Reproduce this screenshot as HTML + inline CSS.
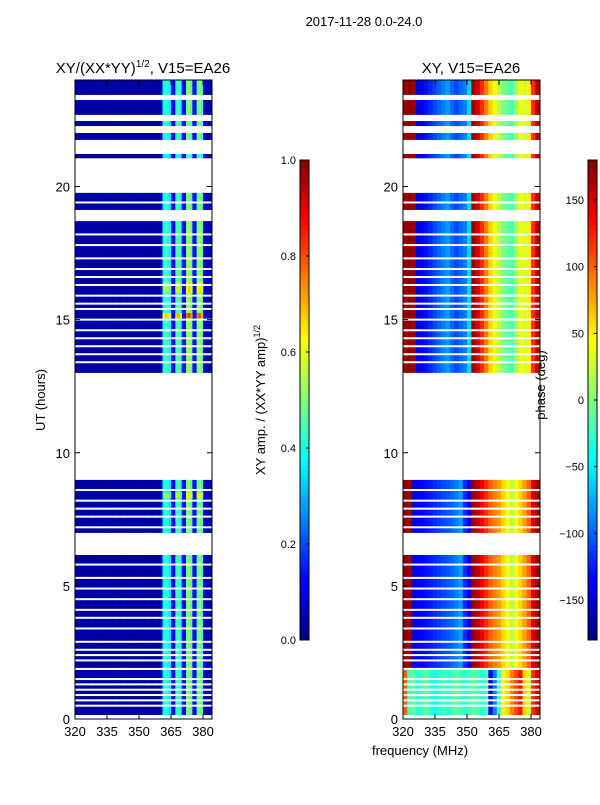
<!DOCTYPE html>
<html><head><meta charset="utf-8"><style>
body{margin:0;background:#fff;}
svg text{font-family:"Liberation Sans","DejaVu Sans",sans-serif;fill:#000;}
</style></head><body>
<svg id="fig" width="600" height="800" xmlns="http://www.w3.org/2000/svg">
<rect width="600" height="800" fill="#fff"/>
<text x="364" y="26" font-size="13" text-anchor="middle">2017-11-28 0.0-24.0</text>
<text x="143" y="73" font-size="15" text-anchor="middle">XY/(XX*YY)<tspan font-size="10" dy="-6">1/2</tspan><tspan dy="6">, V15=EA26</tspan></text>
<text x="471" y="73" font-size="15" text-anchor="middle">XY, V15=EA26</text>
<text transform="translate(45,400) rotate(-90)" font-size="13" text-anchor="middle">UT (hours)</text>
<text x="420" y="755" font-size="13" text-anchor="middle">frequency (MHz)</text>
<text transform="translate(265,400) rotate(-90)" font-size="13" text-anchor="middle">XY amp. / (XX*YY amp)<tspan font-size="9" dy="-5">1/2</tspan></text>
<text transform="translate(545,385) rotate(-90)" font-size="13" text-anchor="middle">phase (deg)</text>
<g id="amp"></g>
<g id="pha"></g>
<g id="axes"></g>
</svg>
<script>
// ---- data ----
const freqStart = 320, freqEnd = 384.2;
const ampProfile = [0.03,0.04,0.03,0.03,0.04,0.03,0.03,0.04,0.03,0.03,0.04,0.03,0.03,0.04,0.03,0.03,0.04,0.03,0.03,0.04,0.03,0.03,0.04,0.03,0.03,0.04,0.03,0.03,0.04,0.03,0.03,0.04,0.03,0.03,0.04,0.03,0.03,0.04,0.03,0.03,0.05,0.38,0.42,0.40,0.36,0.12,0.10,0.42,0.45,0.40,0.14,0.12,0.48,0.52,0.46,0.14,0.13,0.48,0.50,0.44,0.06,0.05,0.04,0.05];
const phaseA = [170,175,170,-150,-140,-130,-120,-110,-100,-90,-80,-100,-110,-100,-90,-60,170,150,120,90,60,40,20,0,-10,-20,10,40,30,50,120,160];
const phaseB = [175,170,-150,-140,-135,-130,-125,-120,-115,-110,-105,-100,-90,-80,-120,-140,170,160,140,120,100,90,80,60,40,20,40,60,80,100,150,170];
const phaseC = [100,-20,-10,-30,-20,-10,-30,-40,-30,-20,-30,-20,-10,-20,-30,-20,-10,-20,-30,-20,-150,-90,-20,40,60,90,110,130,60,30,120,150];
const segStart = [23.44,22.69,22.27,21.75,21.06,19.12,13.0,6.99,1.92,0.15];
const segEnd   = [24.0,23.25,22.46,22.01,21.22,19.76,18.7,8.98,6.16,1.84];
const segBlock = ['A','A','A','A','A','A','A','B','B','C'];
const segGain  = [1,1,1,1,0.9,1,1.05,1,1,1];
const hotStart = [15.05,16.0,8.3];
const hotEnd   = [15.25,16.4,8.5];
const hotGain  = [1.6,1.3,1.25];
const gapHours = [19.4,18.2,17.8,17.3,16.9,16.6,16.3,15.9,15.6,15.4,15.0,14.6,14.3,14.0,13.7,13.4,8.6,8.2,7.9,7.6,7.2,5.8,5.3,4.9,4.5,4.1,3.8,3.4,2.9,2.6,2.4,2.2,1.5,1.3,1.1,0.9,0.7,0.5];
const yTicks = [0,5,10,15,20];
const xTicks = [320,335,350,365,380];
const ampTicks = [0.0,0.2,0.4,0.6,0.8,1.0];
const phaseTicks = [-150,-100,-50,0,50,100,150];
// ---- layout ----
const NS="http://www.w3.org/2000/svg";
const yTop=80,yBot=719;
const panels={amp:{x0:75,x1:212},pha:{x0:403,x1:540}};
function yH(h){return yBot-(h/24)*(yBot-yTop);}
function xF(p,f){return p.x0+(f-freqStart)/(freqEnd-freqStart)*(p.x1-p.x0);}
function jet(v){v=Math.max(0,Math.min(1,v));
 const r=Math.max(0,Math.min(1,1.5-Math.abs(4*v-3)));
 const g=Math.max(0,Math.min(1,1.5-Math.abs(4*v-2)));
 const b=Math.max(0,Math.min(1,1.5-Math.abs(4*v-1)));
 return `rgb(${Math.round(r*255)},${Math.round(g*255)},${Math.round(b*255)})`;}
function mk(tag,attrs,parent){const e=document.createElementNS(NS,tag);for(const k in attrs)e.setAttribute(k,attrs[k]);parent.appendChild(e);return e;}
const gA=document.getElementById('amp'),gP=document.getElementById('pha'),gX=document.getElementById('axes');
const blocks={A:phaseA,B:phaseB,C:phaseC};
for(let s=0;s<segStart.length;s++){
  const ya=yH(segEnd[s]),yb=yH(segStart[s]);
  for(let c=0;c<ampProfile.length;c++){
    const f0=freqStart+c, f1=Math.min(freqEnd,f0+1);
    const xa=xF(panels.amp,f0),xb=xF(panels.amp,f1);
    const r=mk('rect',{x:xa,y:ya,width:xb-xa+0.3,height:yb-ya,fill:jet(ampProfile[c]*segGain[s])},gA);
    
    
    const ph=blocks[segBlock[s]][Math.floor(c/2)];
    const xp=xF(panels.pha,f0),xq=xF(panels.pha,f1);
    const q=mk('rect',{x:xp,y:ya,width:xq-xp+0.3,height:yb-ya,fill:jet((ph+180)/360)},gP);
    
    
  }
}
for(let i=0;i<hotStart.length;i++){
  const ya=yH(hotEnd[i]),yb=yH(hotStart[i]);
  for(let c=0;c<ampProfile.length;c++){
    if(ampProfile[c]<0.2)continue;
    const xa=xF(panels.amp,freqStart+c),xb=xF(panels.amp,freqStart+c+1);
    const r=mk('rect',{x:xa,y:ya,width:xb-xa+0.3,height:yb-ya,fill:jet(ampProfile[c]*hotGain[i])},gA);
    
    
  }
}
for(const h of gapHours){
  for(const p of [panels.amp,panels.pha]){
    const r=mk('rect',{x:p.x0,y:yH(h)-1,width:p.x1-p.x0,height:2,fill:'#fff'},gX);
    
    
  }
}
// axes
for(const key of ['amp','pha']){
  const p=panels[key];
  const fr=mk('rect',{x:p.x0,y:yTop,width:p.x1-p.x0,height:yBot-yTop,fill:'none',stroke:'#000','stroke-width':1},gX);
  
  
  for(const t of yTicks){const y=yH(t);
    mk('line',{x1:p.x0,x2:p.x0+5,y1:y,y2:y,stroke:'#000'},gX);
    mk('line',{x1:p.x1,x2:p.x1-5,y1:y,y2:y,stroke:'#000'},gX);
    const tx=mk('text',{x:p.x0-5,y:y+5,'font-size':13,'text-anchor':'end'},gX);tx.textContent=t;
    
    }
  for(const t of xTicks){const x=xF(p,t);
    mk('line',{x1:x,x2:x,y1:yBot,y2:yBot-5,stroke:'#000'},gX);
    mk('line',{x1:x,x2:x,y1:yTop,y2:yTop+5,stroke:'#000'},gX);
    const tx=mk('text',{x:x,y:yBot+17,'font-size':13,'text-anchor':'middle'},gX);tx.textContent=t;
    
    }
}
// colorbars
function colorbar(x0,ticks,vmin,vmax,fmt,name){
  const cy0=160,cy1=640,w=9;
  for(let i=0;i<96;i++){const v=i/96;
    mk('rect',{x:x0,y:cy1-(i+1)*(cy1-cy0)/96,width:w,height:(cy1-cy0)/96+0.4,fill:jet(v+0.5/96)},gX);}
  const fr=mk('rect',{x:x0,y:cy0,width:w,height:cy1-cy0,fill:'none',stroke:'#000'},gX);
  
  
  for(const t of ticks){const y=cy1-(t-vmin)/(vmax-vmin)*(cy1-cy0);
    mk('line',{x1:x0+w,x2:x0+w-3,y1:y,y2:y,stroke:'#000'},gX);
    const tx=mk('text',{x:x0-4,y:y+4,'font-size':11,'text-anchor':'end'},gX);tx.textContent=fmt(t);
    
    }
}
colorbar(300,ampTicks,0,1,t=>t.toFixed(1),'amp-colorbar');
colorbar(588,phaseTicks,-180,180,t=>t<0?'\u2212'+Math.abs(t):String(t),'phase-colorbar');
</script>
</body></html>
